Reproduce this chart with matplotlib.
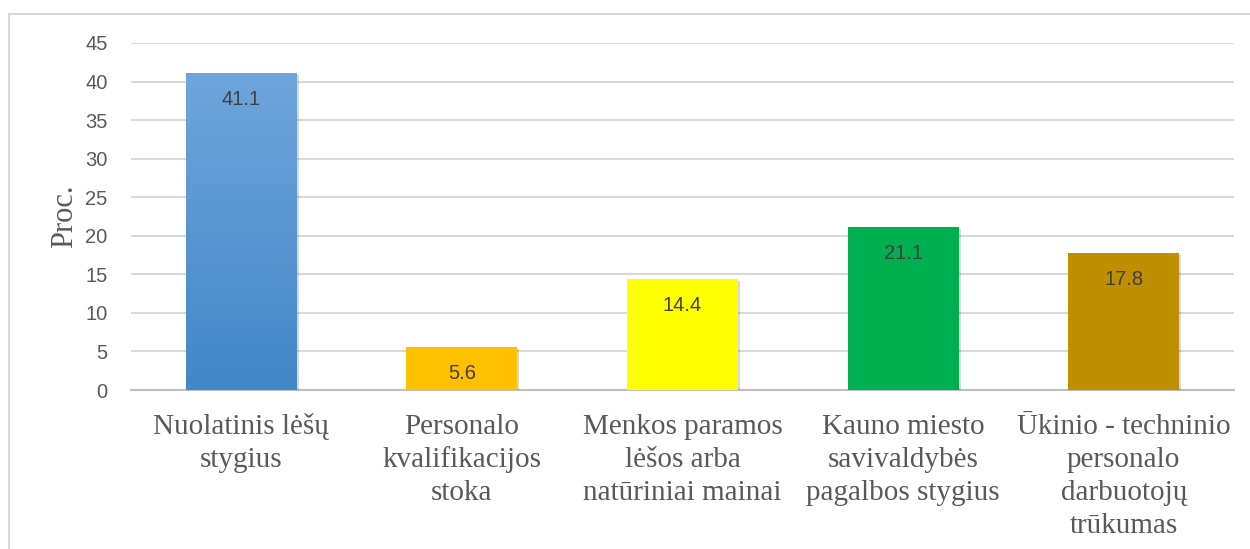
import numpy as np
import matplotlib
matplotlib.use("Agg")
import matplotlib.pyplot as plt
import matplotlib.patheffects as pe
from matplotlib.patches import Rectangle

plt.rcParams["font.family"] = "Liberation Serif"

# Data
categories = [
    "Nuolatinis lėšų\nstygius",
    "Personalo\nkvalifikacijos\nstoka",
    "Menkos paramos\nlėšos arba\nnatūriniai mainai",
    "Kauno miesto\nsavivaldybės\npagalbos stygius",
    "Ūkinio - techninio\npersonalo\ndarbuotojų\ntrūkumas",
]
values = [41.1, 5.6, 14.4, 21.1, 17.8]
colors = ["#5B9BD5", "#FFC000", "#FFFF00", "#00B050", "#BF8F00"]
y_ticks = [0, 5, 10, 15, 20, 25, 30, 35, 40, 45]

fig = plt.figure(figsize=(12.5, 5.49), dpi=100)
ax = fig.add_axes([0.1048, 0.2896, 0.8824, 0.6321])

# light border around the whole chart
fig.patches.append(Rectangle((9 / 1250, -0.05), 1.2, 1 - 14 / 549 + 0.05,
                             transform=fig.transFigure, fill=False,
                             edgecolor="#D9D9D9", linewidth=1.5))

x = np.arange(len(values))
shadow = [pe.SimplePatchShadow(offset=(1.5, -1.5), shadow_rgbFace="#000000", alpha=0.15), pe.Normal()]
bars = ax.bar(x, values, width=0.503, color=colors, zorder=3, path_effects=shadow)

# gradient on the first bar (lighter top, darker bottom)
b = bars[0]
grad = np.linspace(0, 1, 256).reshape(-1, 1)
cmap = matplotlib.colors.LinearSegmentedColormap.from_list("blue", ["#4287C8", "#6FA5DC"])
im = ax.imshow(grad, cmap=cmap, aspect="auto", origin="lower", zorder=4,
               extent=[b.get_x(), b.get_x() + b.get_width(), 0, b.get_height()])
im.set_clip_path(b)

for xi, v in zip(x, values):
    ax.annotate(f"{v}", (xi, v), xytext=(0, -19), textcoords="offset points",
                ha="center", va="center", fontsize=14.5, color="#404040",
                family="Liberation Sans", zorder=5)

# category labels, one text per line
for xi, cat in zip(x, categories):
    for j, line in enumerate(cat.split("\n")):
        ax.annotate(line, (xi, 0), xycoords=("data", "axes fraction"),
                    xytext=(0, -31.7 - 23.8 * j), textcoords="offset points",
                    ha="center", va="baseline", fontsize=21, color="#595959",
                    family="Liberation Serif", annotation_clip=False)

ax.set_xlim(-0.5, len(values) - 0.5)
ax.set_ylim(0, 45)
ax.set_yticks(y_ticks)
ax.set_xticks(x)
ax.set_xticklabels([])
ax.tick_params(axis="y", length=0, pad=17, labelsize=14.5, labelcolor="#595959")
ax.tick_params(axis="x", length=0)
for lab in ax.get_yticklabels():
    lab.set_family("Liberation Sans")
ax.grid(axis="y", color="#D9D9D9", linewidth=1.5, zorder=0)
ax.set_axisbelow(True)
for s in ["top", "right", "left"]:
    ax.spines[s].set_visible(False)
ax.spines["bottom"].set_color("#BFBFBF")
ax.spines["bottom"].set_linewidth(1.5)

ax.set_ylabel("Proc.", fontsize=22, color="#595959")
ax.yaxis.set_label_coords(-0.047, 0.5)

fig.savefig("out.png", dpi=100)
